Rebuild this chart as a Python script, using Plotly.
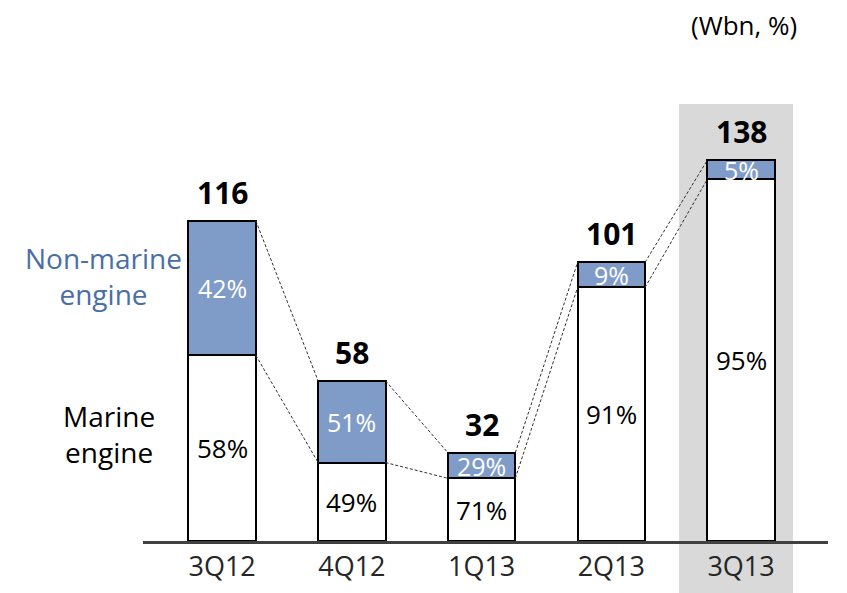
import plotly.graph_objects as go

quarters = ["3Q12", "4Q12", "1Q13", "2Q13", "3Q13"]
totals = [116, 58, 32, 101, 138]
non_marine_pct = [42, 51, 29, 9, 5]
marine_pct = [58, 49, 71, 91, 95]

FONT = "Open Sans"
BLUE = "#7f9cc8"
W = 0.52

xs = list(range(len(quarters)))
marine = [t * p / 100 for t, p in zip(totals, marine_pct)]
non_marine = [t - m for t, m in zip(totals, marine)]

fig = go.Figure()
fig.add_trace(go.Bar(x=xs, y=marine, width=W, marker=dict(color="white", line=dict(color="black", width=2)),
                     hoverinfo="skip"))
fig.add_trace(go.Bar(x=xs, y=non_marine, width=W, marker=dict(color=BLUE, line=dict(color="black", width=2)),
                     hoverinfo="skip"))

# dashed connectors between neighbouring bars
for i in range(len(xs) - 1):
    for a, b in ((totals[i], totals[i + 1]), (marine[i], marine[i + 1])):
        fig.add_trace(go.Scatter(x=[xs[i] + W / 2, xs[i + 1] - W / 2], y=[a, b], mode="lines",
                                 line=dict(color="#303030", width=1, dash="3px,2px"), hoverinfo="skip"))

ann = []
for i in xs:
    ann.append(dict(x=i, y=totals[i], text="<b>%d</b>" % totals[i], showarrow=False, yanchor="bottom", yshift=6,
                    font=dict(family=FONT, size=30, color="black")))
    ann.append(dict(x=i, y=marine[i] + non_marine[i] / 2, text="%d%%" % non_marine_pct[i], showarrow=False,
                    font=dict(family=FONT, size=25, color="white")))
    ann.append(dict(x=i, y=marine[i] / 2, text="%d%%" % marine_pct[i], showarrow=False,
                    font=dict(family=FONT, size=26, color="black")))

ann.append(dict(xref="paper", yref="paper", x=-0.058, y=0.55, xanchor="center", yanchor="middle",
                text="Non-marine<br>engine", showarrow=False, font=dict(family=FONT, size=28, color="#4a6ea6")))
ann.append(dict(xref="paper", yref="paper", x=-0.05, y=0.222, xanchor="center", yanchor="middle",
                text="Marine<br>engine", showarrow=False, font=dict(family=FONT, size=28, color="black")))
ann.append(dict(xref="paper", yref="paper", x=0.878, y=1.0728, xanchor="center", yanchor="middle",
                text="(Wbn, %)", showarrow=False, font=dict(family=FONT, size=26, color="black")))

fig.update_layout(
    width=847, height=593, barmode="stack", showlegend=False,
    plot_bgcolor="white", paper_bgcolor="white",
    margin=dict(l=135, r=27, t=52, b=60),
    annotations=ann,
    shapes=[dict(type="rect", xref="x", yref="paper", x0=3.522, x1=4.40, y0=-0.2, y1=0.9085,
                 fillcolor="#d9d9d9", line=dict(width=0), layer="below")],
    xaxis=dict(range=[-0.61, 4.67], tickvals=xs, ticktext=quarters, showgrid=False, zeroline=False,
               showline=True, linecolor="#404040", linewidth=2.5, ticks="",
               tickfont=dict(family=FONT, size=27, color="#262626")),
    yaxis=dict(range=[0, 174.3], visible=False),
)

fig.write_html("out.html")
